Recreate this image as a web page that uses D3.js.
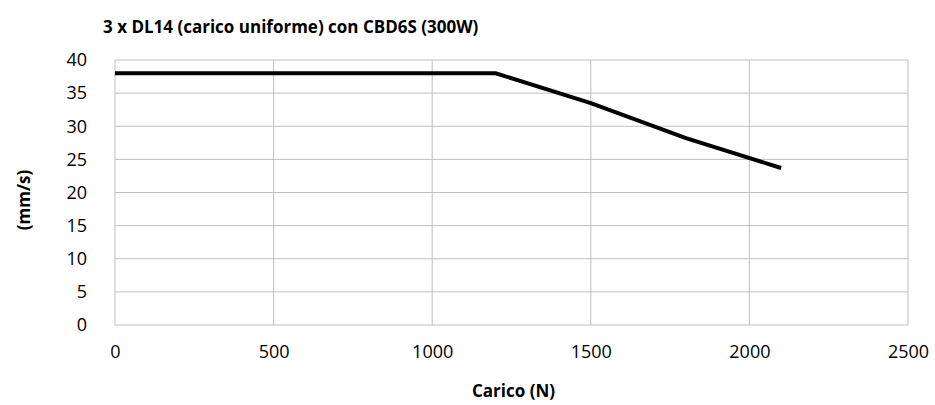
<!DOCTYPE html>
<html>
<head>
<meta charset="utf-8">
<script src="https://cdn.jsdelivr.net/npm/d3@7"></script>
<style>
  body { margin: 0; background: #fff; }
  svg { display: block; font-family: "Open Sans", "Noto Sans", sans-serif; }
</style>
</head>
<body>
<svg id="chart" width="935" height="405"></svg>
<script>
// data
const loads = [0, 1200, 1500, 1800, 2100];
const speeds = [38, 38, 33.5, 28.2, 23.7];
const xTicks = [0, 500, 1000, 1500, 2000, 2500];
const yTicks = [0, 5, 10, 15, 20, 25, 30, 35, 40];

const title = '3 x DL14 (carico uniforme) con CBD6S (300W)';
const xTitle = 'Carico (N)';
const yTitle = '(mm/s)';

const svg = d3.select('#chart');
const m = { l: 115, r: 908, t: 60, b: 325 };

const x = d3.scaleLinear().domain([0, 2500]).range([m.l, m.r]);
const y = d3.scaleLinear().domain([0, 40]).range([m.b, m.t]);

// grid
svg.append('g')
  .selectAll('line')
  .data(yTicks)
  .enter()
  .append('line')
  .attr('x1', m.l).attr('x2', m.r)
  .attr('y1', d => y(d)).attr('y2', d => y(d))
  .style('stroke', '#bfbfbf').style('stroke-width', 1);

svg.append('g')
  .selectAll('line')
  .data(xTicks)
  .enter()
  .append('line')
  .attr('y1', m.t).attr('y2', m.b)
  .attr('x1', d => x(d)).attr('x2', d => x(d))
  .style('stroke', '#bfbfbf').style('stroke-width', 1);

// axes, only labels
const yAxis = svg.append('g')
  .attr('transform', `translate(${m.l},0)`)
  .call(d3.axisLeft(y).tickValues(yTicks).tickSize(0).tickPadding(28));
const xAxis = svg.append('g')
  .attr('transform', `translate(0,${m.b})`)
  .call(d3.axisBottom(x).tickValues(xTicks).tickSize(0).tickPadding(20).tickFormat(d3.format('d')));

[xAxis, yAxis].forEach(a => {
  a.select('.domain').remove();
  a.selectAll('text')
    .style('font-family', '"Open Sans", "Noto Sans", sans-serif')
    .style('font-size', '18px')
    .style('fill', '#000');
});

// the line
const line = d3.line().x(d => x(d[0])).y(d => y(d[1]));
svg.append('path')
  .datum(loads.map((l, i) => [l, speeds[i]]))
  .attr('d', line)
  .style('fill', 'none')
  .style('stroke', '#000')
  .style('stroke-width', 4);

// titles
svg.append('text')
  .attr('x', 103).attr('y', 33)
  .style('font-size', '17px').style('font-weight', 'bold')
  .text(title);

svg.append('text')
  .attr('x', (m.l + m.r) / 2 + 2).attr('y', 397)
  .attr('text-anchor', 'middle')
  .style('font-size', '17px').style('font-weight', 'bold')
  .text(xTitle);

svg.append('text')
  .attr('transform', `translate(30,200) rotate(-90)`)
  .attr('text-anchor', 'middle')
  .style('font-size', '17px').style('font-weight', 'bold')
  .text(yTitle);
</script>
</body>
</html>
